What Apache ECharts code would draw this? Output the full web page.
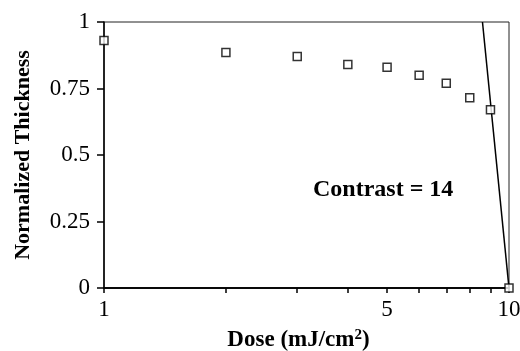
<!DOCTYPE html>
<html>
<head>
<meta charset="utf-8">
<script src="https://cdn.jsdelivr.net/npm/echarts@6/dist/echarts.min.js"></script>
<style>
  html, body { margin: 0; padding: 0; background: #fff; }
  #chart { width: 520px; height: 351px; }
</style>
</head>
<body>
<div id="chart"></div>
<script>
// dose (mJ/cm2) and normalized thickness
var dose = [1, 2, 3, 4, 5, 6, 7, 8, 9, 10]
var thickness = [0.93, 0.885, 0.87, 0.84, 0.83, 0.80, 0.77, 0.715, 0.67, 0]
// contrast fit line: crosses 1 at ~8.6 and 0 at 10
var fitDose = [8.6, 10]
var fitThickness = [1, 0]
var xTicks = [1, 2, 3, 4, 5, 6, 7, 8, 9, 10]
var xLabels = [1, 5, 10]
var yTicks = [0, 0.25, 0.5, 0.75, 1]

var serif = "'Liberation Serif', 'Times New Roman', serif"

var pts = dose.map(function(d, i) { return [d, thickness[i]] })
var fit = fitDose.map(function(d, i) { return [d, fitThickness[i]] })

var chart = echarts.init(document.getElementById('chart'))
chart.setOption({
  animation: false,
  backgroundColor: '#fff',
  grid: {
    left: 104,
    right: 11,
    top: 22,
    bottom: 63,
    outerBoundsMode: 'none',
    containLabel: false,
    show: true,
    borderColor: '#222',
    borderWidth: 1
  },
  xAxis: [
    {
      type: 'log',
      logBase: 10,
      min: 1,
      max: 10,
      name: '{b|Dose (mJ/cm}{s|2}{b|)}',
      nameLocation: 'middle',
      nameGap: 40,
      nameTextStyle: {
        padding: [0, 16, 0, 0],
        rich: {
          b: { fontFamily: serif, fontWeight: 'bold', fontSize: 23, color: '#000' },
          s: { fontFamily: serif, fontWeight: 'bold', fontSize: 15, color: '#000', verticalAlign: 'top', padding: [0, 0, 9, 0] }
        }
      },
      axisLine: { lineStyle: { color: '#000', width: 1.5 } },
      axisTick: { show: false },
      axisLabel: {
        customValues: xLabels,
        margin: 10,
        fontFamily: serif,
        fontSize: 23,
        color: '#000',
        formatter: function(v) { return String(Math.round(v)) }
      },
      splitLine: { show: false },
      minorTick: { show: false }
    },
    {
      // tick marks only, on log10 of the dose
      type: 'value',
      position: 'bottom',
      min: 0,
      max: 1,
      axisLine: { show: true, lineStyle: { color: '#000', width: 1.5 } },
      axisTick: {
        show: true,
        length: 5,
        customValues: xTicks.map(function(v) { return Math.log10(v) }),
        lineStyle: { color: '#000', width: 1.5 }
      },
      axisLabel: { show: false },
      splitLine: { show: false }
    }
  ],
  yAxis: {
    type: 'value',
    min: 0,
    max: 1,
    interval: 0.25,
    name: 'Normalized Thickness',
    nameLocation: 'middle',
    nameGap: 70,
    nameTextStyle: { fontFamily: serif, fontWeight: 'bold', fontSize: 22, color: '#000' },
    axisLine: { show: true, lineStyle: { color: '#000', width: 1.5 } },
    axisTick: { show: true, length: 7, lineStyle: { color: '#000', width: 1.5 } },
    axisLabel: {
      margin: 14,
      fontFamily: serif,
      fontSize: 23,
      color: '#000',
      customValues: yTicks
    },
    splitLine: { show: false }
  },
  graphic: [{
    type: 'text',
    left: 313,
    top: 178,
    style: {
      text: 'Contrast = 14',
      font: 'bold 24px ' + serif,
      fill: '#000'
    }
  }],
  series: [
    {
      type: 'line',
      data: fit,
      symbol: 'none',
      lineStyle: { color: '#000', width: 1.5 },
      z: 2
    },
    {
      type: 'scatter',
      data: pts,
      symbol: 'rect',
      symbolSize: 8,
      itemStyle: { color: '#fff', borderColor: '#000', borderWidth: 1.5 },
      z: 3,
      clip: false
    }
  ]
})
</script>
</body>
</html>
